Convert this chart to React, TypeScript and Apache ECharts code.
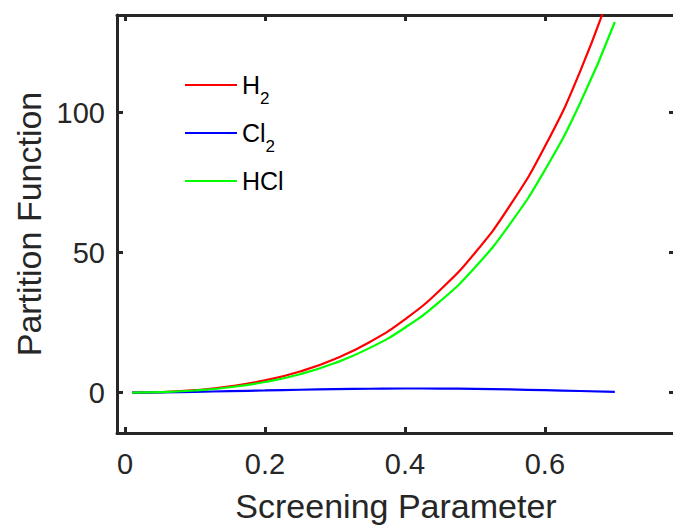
import React, { useEffect, useRef } from "react";
import * as echarts from "echarts";

const xValues = [0.01, 0.05, 0.1, 0.15, 0.2, 0.25, 0.3, 0.35, 0.4, 0.45, 0.5, 0.55, 0.6, 0.65, 0.7];
const h2Values = [0.01, 0.2, 0.9, 2.23, 4.39, 7.57, 12.05, 18.13, 26.2, 36.6, 49.9, 66.8, 87.9, 114.5, 148];
const cl2Values = [0, 0.1, 0.3, 0.55, 0.8, 1.05, 1.25, 1.4, 1.5, 1.45, 1.35, 1.15, 0.9, 0.6, 0.3];
const hclValues = [0.01, 0.18, 0.78, 1.94, 3.83, 6.6, 10.6, 16.0, 23.2, 32.6, 44.7, 60.2, 79.5, 103.2, 132.4];

const xTicks = [0, 0.2, 0.4, 0.6];
const yTicks = [0, 50, 100];
const seriesNames = ["H2", "Cl2", "HCl"];
const seriesColors = ["#ff0000", "#0000ff", "#00ff00"];

const FONT = "'Liberation Sans', Arial, Helvetica, sans-serif";
const AXIS_COLOR = "#262626";

export default function App() {
  const ref = useRef<HTMLDivElement>(null);

  useEffect(() => {
    document.body.style.margin = "0";
    document.body.style.overflow = "hidden";
    if (!ref.current) return;
    const chart = echarts.init(ref.current, undefined, { renderer: "svg" });

    const pairs = (ys: number[]) => xValues.map((x, i) => [x, ys[i]]);
    const seriesData = [h2Values, cl2Values, hclValues];

    const axisLine = { show: true, onZero: false, lineStyle: { color: AXIS_COLOR, width: 3 } };
    const tickStyle = { color: AXIS_COLOR, width: 3 };

    const xMin = -0.0115;
    const xMax = 0.786;
    const yMin = -14.4;
    const yMax = 134.9;

    chart.setOption({
      animation: false,
      backgroundColor: "#ffffff",
      textStyle: { fontFamily: FONT },
      grid: { left: 117, width: 558, top: 15, bottom: 96, containLabel: false, outerBoundsMode: "none" },
      legend: {
        orient: "vertical",
        left: 185,
        top: 63,
        padding: 0,
        icon: "rect",
        itemWidth: 52,
        itemHeight: 2,
        itemGap: 4,
        data: seriesNames,
        formatter: (name: string) => name.replace(/(\d)/, "{s|$1}"),
        textStyle: {
          fontFamily: FONT,
          fontSize: 25,
          color: "#000000",
          lineHeight: 44,
          rich: {
            s: { fontFamily: FONT, fontSize: 17, lineHeight: 14, verticalAlign: "bottom", color: "#000000" },
          },
        },
      },
      xAxis: [
        {
          type: "value",
          position: "bottom",
          min: xMin,
          max: xMax,
          axisLine,
          splitLine: { show: false },
          axisTick: { show: true, inside: true, length: 6, lineStyle: tickStyle, customValues: xTicks },
          axisLabel: {
            show: true,
            customValues: xTicks,
            margin: 16,
            fontSize: 29,
            color: AXIS_COLOR,
            fontFamily: FONT,
            formatter: (v: number) => String(v),
          },
          name: "Screening Parameter",
          nameLocation: "middle",
          nameGap: 56,
          nameTextStyle: { fontSize: 34, color: AXIS_COLOR, fontFamily: FONT },
        },
        {
          type: "value",
          position: "top",
          min: xMin,
          max: xMax,
          axisLine,
          splitLine: { show: false },
          axisTick: { show: true, inside: true, length: 6, lineStyle: tickStyle, customValues: xTicks },
          axisLabel: { show: false },
        },
      ],
      yAxis: [
        {
          type: "value",
          position: "left",
          min: yMin,
          max: yMax,
          axisLine,
          splitLine: { show: false },
          axisTick: { show: true, inside: true, length: 6, lineStyle: tickStyle, customValues: yTicks },
          axisLabel: {
            show: true,
            customValues: yTicks,
            margin: 12,
            fontSize: 29,
            color: AXIS_COLOR,
            fontFamily: FONT,
            formatter: (v: number) => String(v),
          },
          name: "Partition Function",
          nameLocation: "middle",
          nameGap: 71,
          nameTextStyle: { fontSize: 34, color: AXIS_COLOR, fontFamily: FONT },
        },
        {
          type: "value",
          position: "right",
          min: yMin,
          max: yMax,
          axisLine: { show: false, onZero: false },
          splitLine: { show: false },
          axisTick: { show: true, inside: true, length: 6, lineStyle: tickStyle, customValues: yTicks },
          axisLabel: { show: false },
        },
      ],
      series: seriesNames.map((name, i) => ({
        name,
        type: "line",
        xAxisIndex: 0,
        yAxisIndex: 0,
        data: pairs(seriesData[i]),
        smooth: true,
        symbol: "none",
        showSymbol: false,
        clip: true,
        color: seriesColors[i],
        lineStyle: { color: seriesColors[i], width: 2.2 },
      })),
    });

    return () => chart.dispose();
  }, []);

  return <div ref={ref} style={{ width: 673, height: 529 }} />;
}
